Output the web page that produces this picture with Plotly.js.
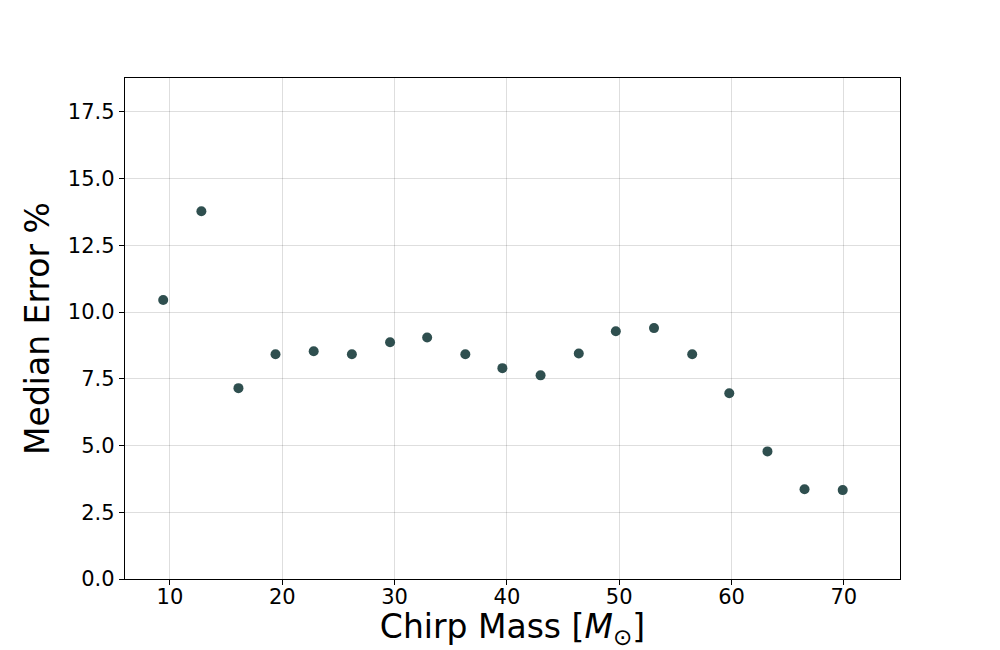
<!DOCTYPE html>
<html>
<head>
<meta charset="utf-8">
<script src="https://cdn.plot.ly/plotly-3.0.1.min.js"></script>
<style>
  html, body { margin: 0; padding: 0; background: #fff; }
  #chart { width: 1000px; height: 650px; }
</style>
</head>
<body>
<div id="chart"></div>
<script>
// ---- data ----
const chirpMass = [9.4, 12.8, 16.1, 19.4, 22.8, 26.2, 29.6, 32.9, 36.3, 39.6,
                   43.0, 46.4, 49.7, 53.1, 56.5, 59.8, 63.2, 66.5, 69.9];
const medianError = [10.45, 13.78, 7.15, 8.42, 8.53, 8.42, 8.87, 9.05, 8.42, 7.9,
                     7.63, 8.45, 9.28, 9.4, 8.42, 6.96, 4.78, 3.36, 3.33];
const xTicks = [10, 20, 30, 40, 50, 60, 70];
const yTicks = [0, 2.5, 5, 7.5, 10, 12.5, 15, 17.5];

const axisBase = {
  showline: true,
  linecolor: '#000',
  linewidth: 1.2,
  mirror: true,
  ticks: 'outside',
  ticklen: 5,
  tickwidth: 1,
  tickcolor: '#000',
  showgrid: true,
  gridcolor: 'rgba(0,0,0,0.13)',
  gridwidth: 1,
  zeroline: false,
  tickfont: { family: 'DejaVu Sans', size: 21, color: '#000' },
};

Plotly.newPlot('chart', [{
  type: 'scatter',
  mode: 'markers',
  x: chirpMass,
  y: medianError,
  marker: { color: '#2f4f4f', size: 10 },
}], {
  width: 1000,
  height: 650,
  paper_bgcolor: '#fff',
  plot_bgcolor: '#fff',
  margin: { l: 125, r: 100, t: 78, b: 71 },
  showlegend: false,
  xaxis: Object.assign({}, axisBase, {
    range: [6, 75],
    tickvals: xTicks,
    ticktext: xTicks.map(String),
    ticklabelstandoff: -6,
    title: { text: 'Chirp Mass [<i>M</i><sub>⊙</sub>]', font: { family: 'DejaVu Sans', size: 33, color: '#000' }, standoff: 10 },
  }),
  yaxis: Object.assign({}, axisBase, {
    range: [0, 18.77],
    tickvals: yTicks,
    ticktext: yTicks.map(v => v.toFixed(1)),
    title: { text: 'Median Error %', font: { family: 'DejaVu Sans', size: 33, color: '#000' }, standoff: 8 },
  }),
}, { displayModeBar: false, staticPlot: true });
</script>
</body>
</html>
